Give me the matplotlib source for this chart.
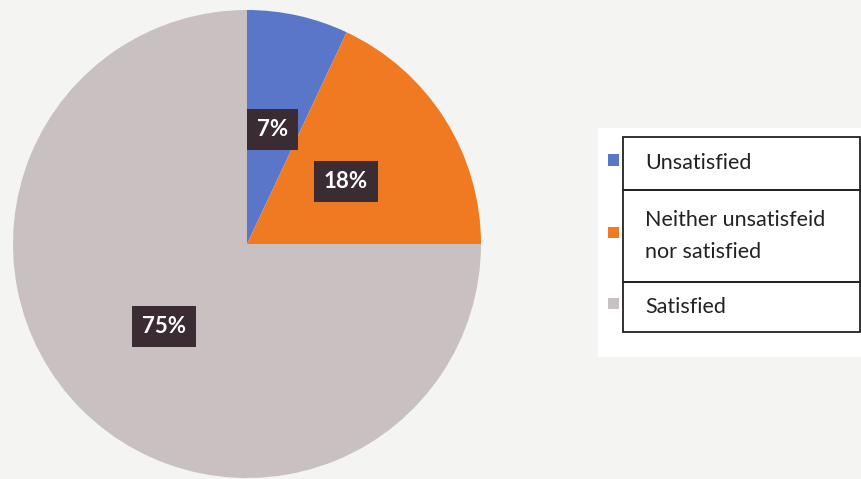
import matplotlib.pyplot as plt
from matplotlib.patches import Rectangle

# data
categories = ["Unsatisfied", "Neither unsatisfeid\nnor satisfied", "Satisfied"]
shares = [7, 18, 75]
colors = ["#5a76c8", "#f07a22", "#c9c0c1"]

W, H = 861, 479
fig = plt.figure(figsize=(W / 100, H / 100), dpi=100)
fig.patch.set_facecolor("#f4f4f3")

# pie placed in pixels: centre (247, 244), radius 234
cx, cy, r = 247, 244, 234
ax = fig.add_axes([(cx - r) / W, (H - cy - r) / H, 2 * r / W, 2 * r / H])
wedges, texts, autotexts = ax.pie(
    shares,
    colors=colors,
    startangle=90,
    counterclock=False,
    autopct=lambda p: f"{p:.0f}%",
    pctdistance=0.5,
    radius=1,
    wedgeprops=dict(linewidth=0),
    textprops=dict(color="white", fontsize=16, fontweight="bold", family="Lato"),
)
for t in autotexts:
    t.set_bbox(dict(boxstyle="square,pad=0.45", facecolor="#3b2c33", edgecolor="none"))
ax.set_xlim(-1, 1)
ax.set_ylim(-1, 1)
ax.set_aspect("auto")
ax.axis("off")


def fx(x):
    return x / W


def fy(y):
    return 1 - y / H


# legend drawn as a bordered table, like the original
fig.patches.append(Rectangle((fx(598), fy(357)), fx(W - 598), (357 - 128) / H,
                             transform=fig.transFigure, facecolor="white",
                             edgecolor="none", zorder=1))
rows = [(137, 190), (190, 282), (282, 332)]
for (top, bot), label, c in zip(rows, categories, colors):
    fig.patches.append(Rectangle((fx(623), fy(bot)), fx(860 - 623), (bot - top) / H,
                                 transform=fig.transFigure, facecolor="none",
                                 edgecolor="#222222", linewidth=1.3, zorder=2))
    mid = (top + bot) / 2
    fig.patches.append(Rectangle((fx(608), fy(mid + 2)), fx(11), 11 / H,
                                 transform=fig.transFigure, facecolor=c,
                                 edgecolor="none", zorder=2))
    fig.text(fx(645), fy(mid), label, fontsize=15.5, family="Lato", color="#222222",
             va="center", ha="left", linespacing=1.7, zorder=3)

fig.savefig("out.png", dpi=100, facecolor=fig.get_facecolor())
